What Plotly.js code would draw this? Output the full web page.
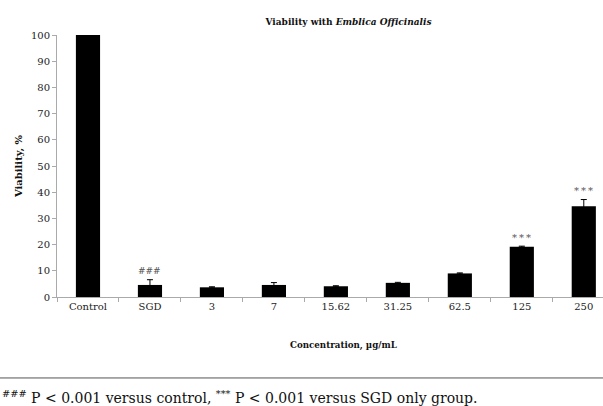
<!DOCTYPE html>
<html><head><meta charset="utf-8">
<script src="https://cdn.plot.ly/plotly-3.0.1.min.js"></script>
<style>html,body{margin:0;padding:0;background:#fff;}#chart{width:603px;height:406px;}</style>
</head><body><div id="chart"></div>
<script>
const categories = ["Control","SGD","3","7","15.62","31.25","62.5","125","250"];
const viability = [100, 4.6, 3.7, 4.6, 4.1, 5.4, 9.0, 19.2, 34.6];
const errors = [0, 2.0, 0.2, 0.9, 0.2, 0.2, 0.2, 0.2, 2.6];
const marks = ["", "###", "", "", "", "", "", "*\u2009*\u2009*", "*\u2009*\u2009*"];
const yTicks = [0,10,20,30,40,50,60,70,80,90,100];

const font = "DejaVu Serif, serif";
const annotations = [];
categories.forEach((c,i)=>{
  if (marks[i]) annotations.push({x:i, y:viability[i]+errors[i]+3.5, xref:'x', yref:'y',
    text:marks[i], showarrow:false, font:{family:font,size:i===1?9:10,color:'#555'}});
});
annotations.push({xref:'paper', yref:'paper', x:0.5256, y:-0.185, xanchor:'center', yanchor:'middle',
  text:'<b>Concentration, µg/mL</b>', showarrow:false, font:{family:font,size:8.7,color:'#111'}});
annotations.push({xref:'paper', yref:'paper', x:-0.104, y:-0.382, xanchor:'left', yanchor:'middle',
  text:'<sup>###</sup> P &lt; 0.001 versus control, <sup>***</sup> P &lt; 0.001 versus SGD only group.',
  showarrow:false, font:{family:font, size:14, color:'#111'}});

const trace = {type:'bar', x:categories, y:viability, width:0.39,
  marker:{color:'#000', line:{width:0}},
  error_y:{type:'data', array:errors, visible:true, color:'#000', thickness:1, width:3},
  cliponaxis:false};

const layout = {
  width:603, height:406, margin:{l:57, r:0, t:35, b:109},
  paper_bgcolor:'#fff', plot_bgcolor:'#fff', showlegend:false,
  font:{family:font, size:10, color:'#222'},
  title:{text:'<b>Viability with <i>Emblica Officinalis</i></b>', x:0.578, xanchor:'center', y:0.955, font:{family:font,size:9,color:'#111'}},
  xaxis:{type:'category', range:[-0.5, 8.31], showgrid:false, zeroline:false,
    showline:true, linecolor:'#aaa', linewidth:1, ticks:'outside', tickson:'boundaries', ticklen:4, tickcolor:'#aaa',
    tickfont:{family:font,size:10,color:'#222'}, automargin:false},
  yaxis:{range:[0,100], tickvals:yTicks, showgrid:false, zeroline:false,
    showline:true, linecolor:'#aaa', linewidth:1, ticks:'outside', ticklen:4, tickcolor:'#aaa',
    tickfont:{family:font,size:10,color:'#222'},
    title:{text:'<b>Viability, %</b>', standoff:6, font:{family:font,size:10,color:'#111'}}, automargin:false},
  shapes:[{type:'line', xref:'paper', yref:'paper', x0:-0.105, x1:1, y0:-0.309, y1:-0.309, line:{color:'#555', width:1}}],
  annotations:annotations
};
Plotly.newPlot('chart',[trace],layout,{displayModeBar:false, staticPlot:true});
</script></body></html>
